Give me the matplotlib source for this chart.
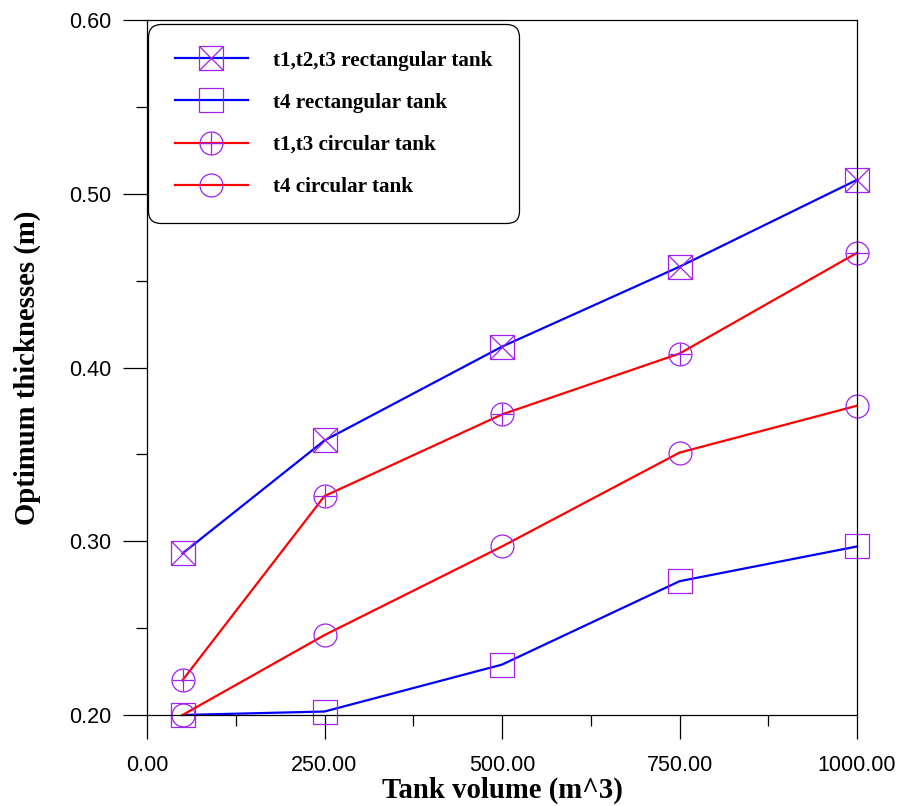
"""
Optimum thicknesses vs tank volume
"""

import matplotlib
matplotlib.use("Agg")
import matplotlib.pyplot as plt
from matplotlib.ticker import MultipleLocator, FormatStrFormatter

# データ
volume = [50, 250, 500, 750, 1000]
rect_t123 = [0.293, 0.358, 0.412, 0.458, 0.508]
rect_t4 = [0.200, 0.202, 0.229, 0.277, 0.297]
circ_t13 = [0.220, 0.326, 0.373, 0.408, 0.466]
circ_t4 = [0.200, 0.246, 0.297, 0.351, 0.378]

labels = ["t1,t2,t3 rectangular tank", "t4 rectangular tank",
          "t1,t3 circular tank", "t4 circular tank"]

blue = "#0000ff"
red = "#ff0000"
purple = "#a020f0"

fig = plt.figure(figsize=(8.99, 8.06), dpi=100)
ax = fig.add_axes([147 / 899, 91 / 806, 710 / 899, 695 / 806])

def series(y, color, marker, size, extra=None):
    line, = ax.plot(volume, y, color=color, lw=1.6, marker=marker, ms=size,
                    mfc="none", mec=purple, mew=0.9, clip_on=False)
    if extra is None:
        return line
    over, = ax.plot(volume, y, ls="none", marker=extra, ms=size,
                    mec=purple, mew=0.9, clip_on=False)
    return (line, over)

h1 = series(rect_t123, blue, "s", 17.5, "x")
h2 = series(rect_t4, blue, "s", 17.5)
h3 = series(circ_t13, red, "o", 16.5, "+")
h4 = series(circ_t4, red, "o", 16.5)

ax.set_xlim(0, 1000)
ax.set_ylim(0.2, 0.6)
ax.xaxis.set_major_locator(MultipleLocator(250))
ax.xaxis.set_minor_locator(MultipleLocator(125))
ax.yaxis.set_major_locator(MultipleLocator(0.1))
ax.yaxis.set_minor_locator(MultipleLocator(0.05))
ax.xaxis.set_major_formatter(FormatStrFormatter("%.2f"))
ax.yaxis.set_major_formatter(FormatStrFormatter("%.2f"))

ax.tick_params(which="major", direction="out", length=17, width=0.9,
               labelsize=15.5, pad=9)
ax.tick_params(axis="x", which="major", pad=12)
ax.tick_params(which="minor", direction="out", length=8, width=0.9)
for lab in ax.get_xticklabels() + ax.get_yticklabels():
    lab.set_fontfamily("Liberation Sans")
for sp in ax.spines.values():
    sp.set_linewidth(0.9)

ax.set_xlabel("Tank volume (m^3)", fontfamily="Liberation Serif",
              fontweight="bold", fontsize=20.7, labelpad=0)
ax.set_ylabel("Optimum thicknesses (m)", fontfamily="Liberation Serif",
              fontweight="bold", fontsize=20.7, labelpad=20)

leg = ax.legend([h1, h2, h3, h4], labels, loc="upper left",
                bbox_to_anchor=(0.002, 0.994), borderaxespad=0,
                prop={"family": "Liberation Serif", "weight": "bold", "size": 15.2},
                handlelength=3.45, handletextpad=1.2, labelspacing=1.05,
                borderpad=1.25, fancybox=True, framealpha=1, edgecolor="black")
leg.get_frame().set_linewidth(0.9)
leg.get_frame().set_boxstyle("round,pad=0,rounding_size=0.6")

fig.savefig("out.png", dpi=100)
plt.close(fig)
